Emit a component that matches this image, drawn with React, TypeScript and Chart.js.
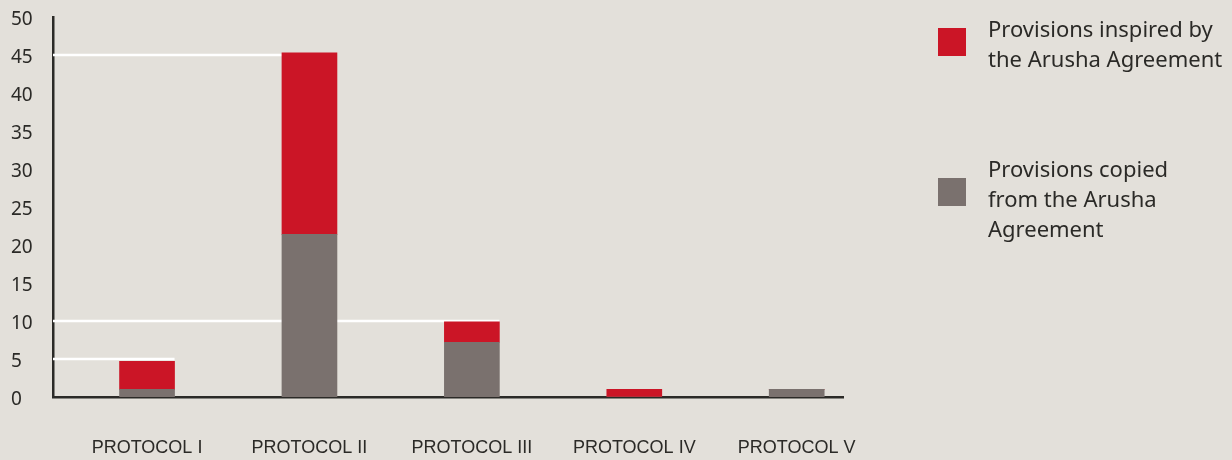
import React, { useEffect, useRef } from "react";
import { Chart, registerables } from "chart.js";

Chart.register(...registerables);

const categories = ["PROTOCOL I", "PROTOCOL II", "PROTOCOL III", "PROTOCOL IV", "PROTOCOL V"];
const copiedValues = [1, 21.4, 7.2, 0, 1];
const inspiredValues = [3.7, 23.9, 2.7, 1, 0];
const yTickStep = 5;
const yMax = 50;
const legendInspired = ["Provisions inspired by", "the Arusha Agreement"];
const legendCopied = ["Provisions copied", "from the Arusha", "Agreement"];

const BG = "#e3e0da";
const RED = "#cb1526";
const GRAY = "#7a716e";
const INK = "#2b2a27";

const guidePlugin = {
  id: "guides",
  beforeDatasetsDraw(chart: any) {
    const { ctx, chartArea, scales } = chart;
    const y = scales.y;
    const meta = chart.getDatasetMeta(1);
    ctx.save();
    ctx.strokeStyle = "#ffffff";
    ctx.lineWidth = 2.5;
    categories.forEach((_, i) => {
      const total = copiedValues[i] + inspiredValues[i];
      const tick = Math.round(total / yTickStep) * yTickStep;
      if (tick <= 0) return;
      const bar = meta.data[i];
      if (!bar) return;
      const right = bar.x + bar.width / 2;
      const py = y.getPixelForValue(tick);
      ctx.beginPath();
      ctx.moveTo(chartArea.left, py);
      ctx.lineTo(right, py);
      ctx.stroke();
    });
    ctx.restore();
  },
};

function LegendItem({ color, lines, top, boxTop }: { color: string; lines: string[]; top: number; boxTop: number }) {
  return (
    <>
      <div style={{ position: "absolute", left: 938, top: boxTop, width: 28, height: 28, background: color }} />
      <div
        style={{
          position: "absolute",
          left: 988,
          top,
          fontFamily: "'Noto Sans', sans-serif",
          fontSize: 22,
          lineHeight: "30px",
          color: INK,
          whiteSpace: "nowrap",
        }}
      >
        {lines.map((l, i) => (
          <div key={i}>{l}</div>
        ))}
      </div>
    </>
  );
}

export default function App() {
  const ref = useRef<HTMLCanvasElement | null>(null);

  useEffect(() => {
    if (!ref.current) return;
    const chart = new Chart(ref.current, {
      type: "bar",
      data: {
        datasets: [
          {
            label: legendCopied.join(" "),
            data: copiedValues.map((v, i) => ({ x: i, y: v })),
            backgroundColor: GRAY,
            borderWidth: 0,
            barThickness: 55,
          },
          {
            label: legendInspired.join(" "),
            data: inspiredValues.map((v, i) => ({ x: i, y: v })),
            backgroundColor: RED,
            borderWidth: 0,
            barThickness: 55,
          },
        ],
      },
      options: {
        animation: false,
        responsive: false,
        maintainAspectRatio: false,
        layout: { padding: { left: 11, top: 17, right: 389, bottom: 0 } },
        plugins: { legend: { display: false }, tooltip: { enabled: false } },
        scales: {
          x: {
            type: "linear",
            offset: false,
            min: -0.579,
            max: 4.285,
            stacked: true,
            grid: { display: false, drawTicks: false, offset: false },
            border: { color: INK, width: 2.5 },
            ticks: {
              padding: 40,
              autoSkip: false,
              maxRotation: 0,
              color: INK,
              font: { family: "'Liberation Sans Narrow', 'Liberation Sans', sans-serif", size: 18 },
              callback: (v: any) => categories[v] ?? "",
            },
            afterBuildTicks: (s: any) => {
              s.ticks = categories.map((_, i) => ({ value: i }));
            },
            afterFit: (s: any) => {
              s.height = 63;
            },
          } as any,
          y: {
            min: 0,
            max: yMax,
            stacked: true,
            grid: { display: false, drawTicks: false },
            border: { color: INK, width: 2.5 },
            ticks: {
              stepSize: yTickStep,
              crossAlign: "far",
              padding: 0,
              labelOffset: 3,
              color: INK,
              font: { family: "'Noto Sans', sans-serif", size: 19 },
            },
            afterFit: (s: any) => {
              s.width = 42;
            },
          } as any,
        },
      },
      plugins: [guidePlugin],
    });
    return () => chart.destroy();
  }, []);

  return (
    <div style={{ position: "absolute", left: 0, top: 0, width: 1232, height: 460, background: BG, overflow: "hidden" }}>
      <canvas ref={ref} width={1232} height={460} style={{ position: "absolute", left: 0, top: 0 }} />
      <LegendItem color={RED} lines={legendInspired} top={13} boxTop={28} />
      <LegendItem color={GRAY} lines={legendCopied} top={153} boxTop={178} />
    </div>
  );
}
